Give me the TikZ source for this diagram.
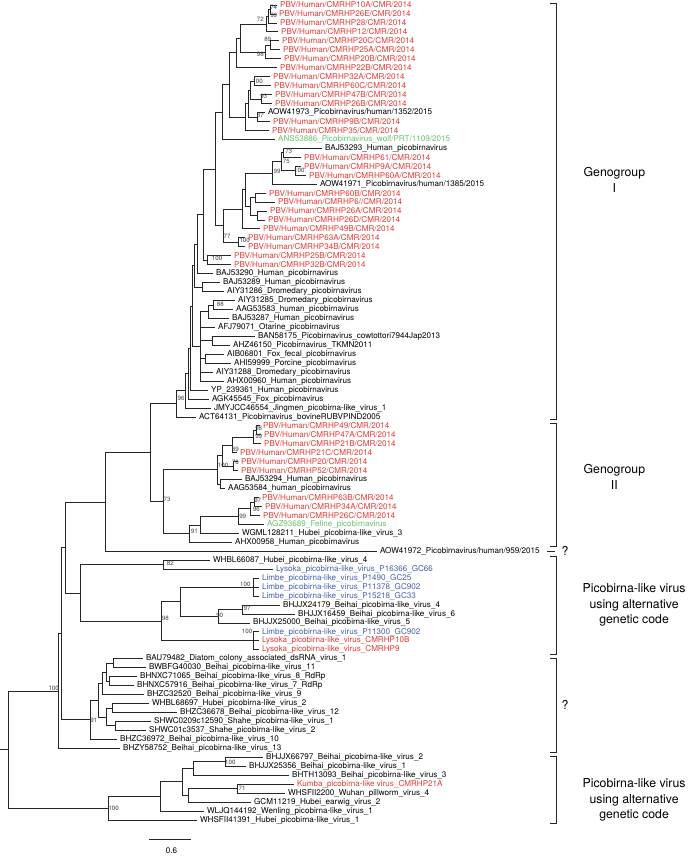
\documentclass[tikz,border=0pt]{standalone}
\usepackage{fontspec}
\setmainfont{TeX Gyre Heros}
\usetikzlibrary{positioning}
\definecolor{pbvred}{RGB}{226,58,52}
\definecolor{lbblue}{RGB}{72,96,172}
\definecolor{wgreen}{RGB}{108,192,108}

\begin{document}
\begin{tikzpicture}[x=1pt, y=-8.955pt,
  br/.style={line width=0.8pt, draw=black!85},
  lf/.style={anchor=west, inner xsep=2.5pt, inner ysep=0pt, font=\fontsize{8.1}{8.5}\selectfont},
  lr/.style={lf, text=pbvred},
  lb/.style={lf, text=lbblue},
  lg/.style={lf, text=wgreen},
  bs/.style={inner sep=0pt, font=\fontsize{6.2}{6.5}\selectfont, text=black!75},
  grp/.style={anchor=west, inner sep=0pt, align=center, font=\fontsize{12.3}{15.5}\selectfont},
  brk/.style={line width=0.6pt, draw=black!85}
]
% pixel frame
\begin{scope}[y=-1pt, yshift=-3.955pt]
\useasboundingbox (0,0) rectangle (697,856);
\end{scope}

% leaves
\node[lr] (l1) at (277,1) {PBV/Human/CMRHP10A/CMR/2014};
\node[lr] (l2) at (276,2) {PBV/Human/CMRHP26E/CMR/2014};
\node[lr] (l3) at (277,3) {PBV/Human/CMRHP28/CMR/2014};
\node[lr] (l4) at (278,4) {PBV/Human/CMRHP12/CMR/2014};
\node[lr] (l5) at (279,5) {PBV/Human/CMRHP20C/CMR/2014};
\node[lr] (l6) at (280,6) {PBV/Human/CMRHP25A/CMR/2014};
\node[lr] (l7) at (281,7) {PBV/Human/CMRHP20B/CMR/2014};
\node[lr] (l8) at (277,8) {PBV/Human/CMRHP22B/CMR/2014};
\node[lr] (l9) at (270,9) {PBV/Human/CMRHP32A/CMR/2014};
\node[lr] (l10) at (271,10) {PBV/Human/CMRHP60C/CMR/2014};
\node[lr] (l11) at (272,11) {PBV/Human/CMRHP47B/CMR/2014};
\node[lr] (l12) at (272,12) {PBV/Human/CMRHP26B/CMR/2014};
\node[lf] (l13) at (265,13) {AOW41973\_Picobirnavirus/human/1352/2015};
\node[lr] (l14) at (270,14) {PBV/Human/CMRHP9B/CMR/2014};
\node[lr] (l15) at (269,15) {PBV/Human/CMRHP35/CMR/2014};
\node[lg] (l16) at (275,16) {ANS53886\_Picobirnavirus\_wolf/PRT/1109/2015};
\node[lf] (l17) at (322,17) {BAJ53293\_Human\_picobirnavirus};
\node[lr] (l18) at (301,18) {PBV/Human/CMRHP61/CMR/2014};
\node[lr] (l19) at (301,19) {PBV/Human/CMRHP9A/CMR/2014};
\node[lr] (l20) at (306,20) {PBV/Human/CMRHP60A/CMR/2014};
\node[lf] (l21) at (317,21) {AOW41971\_Picobirnavirus/human/1385/2015};
\node[lr] (l22) at (266,22) {PBV/Human/CMRHP60B/CMR/2014};
\node[lr] (l23) at (275,23) {PBV/Human/CMRHP6//CMR/2014};
\node[lr] (l24) at (267,24) {PBV/Human/CMRHP26A/CMR/2014};
\node[lr] (l25) at (265,25) {PBV/Human/CMRHP26D/CMR/2014};
\node[lr] (l26) at (260,26) {PBV/Human/CMRHP49B/CMR/2014};
\node[lr] (l27) at (245,27) {PBV/Human/CMRHP63A/CMR/2014};
\node[lr] (l28) at (245,28) {PBV/Human/CMRHP34B/CMR/2014};
\node[lr] (l29) at (231,29) {PBV/Human/CMRHP25B/CMR/2014};
\node[lr] (l30) at (231,30) {PBV/Human/CMRHP32B/CMR/2014};
\node[lf] (l31) at (213,31) {BAJ53290\_Human\_picobirnavirus};
\node[lf] (l32) at (220,32) {BAJ53289\_Human\_picobirnavirus};
\node[lf] (l33) at (224,33) {AIY31286\_Dromedary\_picobirnavirus};
\node[lf] (l34) at (235,34) {AIY31285\_Dromedary\_picobirnavirus};
\node[lf] (l35) at (233,35) {AAG53583\_human\_picobirnavirus};
\node[lf] (l36) at (229,36) {BAJ53287\_Human\_picobirnavirus};
\node[lf] (l37) at (215,37) {AFJ79071\_Otarine\_picobirnavirus};
\node[lf] (l38) at (255,38) {BAN58175\_Picobirnavirus\_cowtottori7944Jap2013};
\node[lf] (l39) at (230,39) {AHZ46150\_Picobirnavirus\_TKMN2011};
\node[lf] (l40) at (224,40) {AIB06801\_Fox\_fecal\_picobirnavirus};
\node[lf] (l41) at (231,41) {AHI59999\_Porcine\_picobirnavirus};
\node[lf] (l42) at (213,42) {AIY31288\_Dromedary\_picobirnavirus};
\node[lf] (l43) at (224,43) {AHX00960\_Human\_picobirnavirus};
\node[lf] (l44) at (208,44) {YP\_239361\_Human\_picobirnavirus};
\node[lf] (l45) at (209,45) {AGK45545\_Fox\_picobirnavirus};
\node[lf] (l46) at (211,46) {JMYJCC46554\_Jingmen\_picobirna-like\_virus\_1};
\node[lf] (l47) at (196,47) {ACT64131\_Picobirnavirus\_bovineRUBVPIND2005};
\node[lr] (l48) at (260,48) {PBV/Human/CMRHP49/CMR/2014};
\node[lr] (l49) at (261,49) {PBV/Human/CMRHP47A/CMR/2014};
\node[lr] (l50) at (261,50) {PBV/Human/CMRHP21B/CMR/2014};
\node[lr] (l51) at (237,51) {PBV/Human/CMRHP21C/CMR/2014};
\node[lr] (l52) at (238,52) {PBV/Human/CMRHP20/CMR/2014};
\node[lr] (l53) at (238,53) {PBV/Human/CMRHP52/CMR/2014};
\node[lf] (l54) at (242,54) {BAJ53294\_Human\_picobirnavirus};
\node[lf] (l55) at (225,55) {AAG53584\_human\_picobirnavirus};
\node[lr] (l56) at (259,56) {PBV/Human/CMRHP63B/CMR/2014};
\node[lr] (l57) at (262,57) {PBV/Human/CMRHP34A/CMR/2014};
\node[lr] (l58) at (260,58) {PBV/Human/CMRHP26C/CMR/2014};
\node[lg] (l59) at (264,59) {AGZ93689\_Feline\_picobirnavirus};
\node[lf] (l60) at (239,60) {WGML128211\_Hubei\_picobirna-like\_virus\_3};
\node[lf] (l61) at (232,61) {AHX00958\_Human\_picobirnavirus};
\node[lf] (l62) at (377,62) {AOW41972\_Picobirnavirus/human/959/2015};
\node[lf] (l63) at (210,63) {WHBL66087\_Hubei\_picobirna-like\_virus\_4};
\node[lb] (l64) at (273,64) {Lysoka\_picobirna-like\_virus\_P16366\_GC66};
\node[lb] (l65) at (259,65) {Limbe\_picobirna-like\_virus\_P1490\_GC25};
\node[lb] (l66) at (259,66) {Limbe\_picobirna-like\_virus\_P11378\_GC902};
\node[lb] (l67) at (259,67) {Limbe\_picobirna-like\_virus\_P15218\_GC33};
\node[lf] (l68) at (280,68) {BHJJX24179\_Beihai\_picobirna-like\_virus\_4};
\node[lf] (l69) at (295,69) {BHJJX16459\_Beihai\_picobirna-like\_virus\_6};
\node[lf] (l70) at (250,70) {BHJJX25000\_Beihai\_picobirna-like\_virus\_5};
\node[lb] (l71) at (259,71) {Limbe\_picobirna-like\_virus\_P11300\_GC902};
\node[lr] (l72) at (259,72) {Lysoka\_picobirna-like\_virus\_CMRHP10B};
\node[lr] (l73) at (259,73) {Lysoka\_picobirna-like\_virus\_CMRHP9};
\node[lf] (l74) at (143,74) {BAU79482\_Diatom\_colony\_associated\_dsRNA\_virus\_1};
\node[lf] (l75) at (146,75) {BWBFG40030\_Beihai\_picobirna-like\_virus\_11};
\node[lf] (l76) at (137,76) {BHNXC71065\_Beihai\_picobirna-like\_virus\_8\_RdRp};
\node[lf] (l77) at (134,77) {BHNXC57916\_Beihai\_picobirna-like\_virus\_7\_RdRp};
\node[lf] (l78) at (144,78) {BHZC32520\_Beihai\_picobirna-like\_virus\_9};
\node[lf] (l79) at (149,79) {WHBL68697\_Hubei\_picobirna-like\_virus\_2};
\node[lf] (l80) at (177,80) {BHZC36678\_Beihai\_picobirna-like\_virus\_12};
\node[lf] (l81) at (151,81) {SHWC0209c12590\_Shahe\_picobirna-like\_virus\_1};
\node[lf] (l82) at (146,82) {SHWC01c3537\_Shahe\_picobirna-like\_virus\_2};
\node[lf] (l83) at (117,83) {BHZC36972\_Beihai\_picobirna-like\_virus\_10};
\node[lf] (l84) at (120,84) {BHZY58752\_Beihai\_picobirna-like\_virus\_13};
\node[lf] (l85) at (263,85) {BHJJX66797\_Beihai\_picobirna-like\_virus\_2};
\node[lf] (l86) at (246,86) {BHJJX25356\_Beihai\_picobirna-like\_virus\_1};
\node[lf] (l87) at (289,87) {BHTH13093\_Beihai\_picobirna-like\_virus\_3};
\node[lr] (l88) at (294,88) {Kumba\_picobirna-like virus\_CMRHP21A};
\node[lf] (l89) at (285,89) {WHSFII2200\_Wuhan\_pillworm\_virus\_4};
\node[lf] (l90) at (251,90) {GCM11219\_Hubei\_earwig\_virus\_2};
\node[lf] (l91) at (204,91) {WLJQ144192\_Wenling\_picobirna-like\_virus\_1};
\node[lf] (l92) at (197,92) {WHSFII41391\_Hubei\_picobirna-like\_virus\_1};

% internal nodes: genogroup I
\coordinate (n74) at (270,1.5);
\coordinate (n99a) at (268,2.25);
\coordinate (n72) at (266,3.125);
\coordinate (n89) at (270,5.5);
\coordinate (n98a) at (265,6.25);
\coordinate (n1g7) at (240,4.6875);
\coordinate (n1g8) at (236,6.344);
\coordinate (n100a) at (254,9.5);
\coordinate (n93) at (261,11.5);
\coordinate (n9g12) at (250,10.5);
\coordinate (n87) at (257,13.5);
\coordinate (n9g14) at (248,12);
\coordinate (n9g15) at (245,13.5);
\coordinate (n1g15) at (229,9.922);
\coordinate (n1g16) at (222,12.961);
\coordinate (n73a) at (283,17.5);
\coordinate (n100c) at (295,19.5);
\coordinate (n75) at (281,18.5);
\coordinate (n99b) at (272,19.75);
\coordinate (n22) at (255,22.5);
\coordinate (n24) at (257,24.5);
\coordinate (n22g25) at (250,23.5);
\coordinate (n17g25) at (245,21.625);
\coordinate (n17g26) at (242,23.8125);
\coordinate (n100d) at (238,27.5);
\coordinate (n77) at (223,25.656);
\coordinate (n1g28) at (215,19.309);
\coordinate (n100e) at (207,29.5);
\coordinate (n1g30) at (203,24.404);
\coordinate (n1g31) at (197,27.702);
\coordinate (n32) at (202,32.5);
\coordinate (n1g33) at (194,30.101);
\coordinate (n88) at (213,34.5);
\coordinate (n34g36) at (208,35.25);
\coordinate (n38) at (212,38.5);
\coordinate (n40) at (205,40.5);
\coordinate (n34g43) at (200,39.125);
\coordinate (n1g43) at (192,34.613);
\coordinate (n1g44) at (190,39.307);
\coordinate (n1g45) at (188,42.153);
\coordinate (n1g46) at (185,44.077);
\coordinate (n96) at (176,45.538);
% genogroup II
\coordinate (n98b) at (256,48.5);
\coordinate (n99c) at (253,49.25);
\coordinate (n89b) at (232,50.125);
\coordinate (n70) at (233,52.5);
\coordinate (n48g53) at (222,51.3125);
\coordinate (n54) at (220,54.5);
\coordinate (n100f) at (217,52.906);
\coordinate (n97) at (254,56.5);
\coordinate (n96b) at (250,57.25);
\coordinate (n99e) at (238,58.125);
\coordinate (n59g60) at (200,59.0625);
\coordinate (n91) at (189,60.031);
\coordinate (n73b) at (163,56.469);
\coordinate (nGG) at (150,51.003);
\coordinate (nGG2) at (105,56.502);
% alternative code clade
\coordinate (n82) at (163,63.5);
\coordinate (n100g) at (253,66);
\coordinate (n97b) at (242,68.5);
\coordinate (n90) at (218,69.25);
\coordinate (n65g70) at (180,67.625);
\coordinate (n100h) at (253,72);
\coordinate (n98c) at (161,69.8125);
\coordinate (n80) at (80,66.656);
\coordinate (nT) at (65,61.579);
% unknown clade
\coordinate (m113) at (113,74.5);
\coordinate (m107) at (109,76.5);
\coordinate (m106) at (106,75.5);
\coordinate (m102) at (102,76.75);
\coordinate (m112) at (112,79.5);
\coordinate (m115) at (115,81.5);
\coordinate (m106b) at (106,80.5);
\coordinate (mA) at (98,78.625);
\coordinate (m90) at (90,80.8125);
\coordinate (nX) at (61,71.196);
\coordinate (nA) at (58,77.598);
% bottom clade
\coordinate (k225) at (225,85.5);
\coordinate (k193) at (193,86.25);
\coordinate (k237) at (237,88.5);
\coordinate (k188) at (188,89.25);
\coordinate (k182) at (182,87.75);
\coordinate (k160) at (160,89.375);
\coordinate (nB) at (108,90.6875);
\coordinate (nR) at (8,84.143);
\coordinate (rt) at (0,84.143);

% branches
\draw[br] (n74) |- (l1) (n74) |- (l2);
\draw[br] (n99a) |- (n74) (n99a) |- (l3);
\draw[br] (n72) |- (n99a) (n72) |- (l4);
\draw[br] (n89) |- (l5) (n89) |- (l6);
\draw[br] (n98a) |- (n89) (n98a) |- (l7);
\draw[br] (n1g7) |- (n72) (n1g7) |- (n98a);
\draw[br] (n1g8) |- (n1g7) (n1g8) |- (l8);
\draw[br] (n100a) |- (l9) (n100a) |- (l10);
\draw[br] (n93) |- (l11) (n93) |- (l12);
\draw[br] (n9g12) |- (n100a) (n9g12) |- (n93);
\draw[br] (n87) |- (l13) (n87) |- (l14);
\draw[br] (n9g14) |- (n9g12) (n9g14) |- (n87);
\draw[br] (n9g15) |- (n9g14) (n9g15) |- (l15);
\draw[br] (n1g15) |- (n1g8) (n1g15) |- (n9g15);
\draw[br] (n1g16) |- (n1g15) (n1g16) |- (l16);
\draw[br] (n73a) |- (l17) (n73a) |- (l18);
\draw[br] (n100c) |- (l19) (n100c) |- (l20);
\draw[br] (n75) |- (n73a) (n75) |- (n100c);
\draw[br] (n99b) |- (n75) (n99b) |- (l21);
\draw[br] (n22) |- (l22) (n22) |- (l23);
\draw[br] (n24) |- (l24) (n24) |- (l25);
\draw[br] (n22g25) |- (n22) (n22g25) |- (n24);
\draw[br] (n17g25) |- (n99b) (n17g25) |- (n22g25);
\draw[br] (n17g26) |- (n17g25) (n17g26) |- (l26);
\draw[br] (n100d) |- (l27) (n100d) |- (l28);
\draw[br] (n77) |- (n17g26) (n77) |- (n100d);
\draw[br] (n1g28) |- (n1g16) (n1g28) |- (n77);
\draw[br] (n100e) |- (l29) (n100e) |- (l30);
\draw[br] (n1g30) |- (n1g28) (n1g30) |- (n100e);
\draw[br] (n1g31) |- (n1g30) (n1g31) |- (l31);
\draw[br] (n32) |- (l32) (n32) |- (l33);
\draw[br] (n1g33) |- (n1g31) (n1g33) |- (n32);
\draw[br] (n88) |- (l34) (n88) |- (l35);
\draw[br] (n34g36) |- (n88) (n34g36) |- (l36);
\draw[br] (n38) |- (l38) (n38) |- (l39);
\draw[br] (n40) |- (l40) (n40) |- (l41);
\draw[br] (n34g43) |- (n34g36) (n34g43) |- (l37) (n34g43) |- (n38) (n34g43) |- (n40) (n34g43) |- (l42) (n34g43) |- (l43);
\draw[br] (n1g43) |- (n1g33) (n1g43) |- (n34g43);
\draw[br] (n1g44) |- (n1g43) (n1g44) |- (l44);
\draw[br] (n1g45) |- (n1g44) (n1g45) |- (l45);
\draw[br] (n1g46) |- (n1g45) (n1g46) |- (l46);
\draw[br] (n96) |- (n1g46) (n96) |- (l47);
\draw[br] (n98b) |- (l48) (n98b) |- (l49);
\draw[br] (n99c) |- (n98b) (n99c) |- (l50);
\draw[br] (n89b) |- (n99c) (n89b) |- (l51);
\draw[br] (n70) |- (l52) (n70) |- (l53);
\draw[br] (n48g53) |- (n89b) (n48g53) |- (n70);
\draw[br] (n54) |- (l54) (n54) |- (l55);
\draw[br] (n100f) |- (n48g53) (n100f) |- (n54);
\draw[br] (n97) |- (l56) (n97) |- (l57);
\draw[br] (n96b) |- (n97) (n96b) |- (l58);
\draw[br] (n99e) |- (n96b) (n99e) |- (l59);
\draw[br] (n59g60) |- (n99e) (n59g60) |- (l60);
\draw[br] (n91) |- (n59g60) (n91) |- (l61);
\draw[br] (n73b) |- (n100f) (n73b) |- (n91);
\draw[br] (nGG) |- (n96) (nGG) |- (n73b);
\draw[br] (nGG2) |- (nGG) (nGG2) |- (l62);
\draw[br] (n82) |- (l63) (n82) |- (l64);
\draw[br] (n100g) |- (l65) (n100g) |- (l66) (n100g) |- (l67);
\draw[br] (n97b) |- (l68) (n97b) |- (l69);
\draw[br] (n90) |- (n97b) (n90) |- (l70);
\draw[br] (n65g70) |- (n100g) (n65g70) |- (n90);
\draw[br] (n100h) |- (l71) (n100h) |- (l72) (n100h) |- (l73);
\draw[br] (n98c) |- (n65g70) (n98c) |- (n100h);
\draw[br] (n80) |- (n82) (n80) |- (n98c);
\draw[br] (nT) |- (nGG2) (nT) |- (n80);
\draw[br] (m113) |- (l74) (m113) |- (l75);
\draw[br] (m107) |- (l76) (m107) |- (l77);
\draw[br] (m106) |- (m113) (m106) |- (m107);
\draw[br] (m102) |- (m106) (m102) |- (l78);
\draw[br] (m112) |- (l79) (m112) |- (l80);
\draw[br] (m115) |- (l81) (m115) |- (l82);
\draw[br] (m106b) |- (m112) (m106b) |- (m115);
\draw[br] (mA) |- (m102) (mA) |- (m106b);
\draw[br] (m90) |- (mA) (m90) |- (l83);
\draw[br] (nX) |- (nT) (nX) |- (m90);
\draw[br] (nA) |- (nX) (nA) |- (l84);
\draw[br] (k225) |- (l85) (k225) |- (l86);
\draw[br] (k193) |- (k225) (k193) |- (l87);
\draw[br] (k237) |- (l88) (k237) |- (l89);
\draw[br] (k188) |- (k237) (k188) |- (l90);
\draw[br] (k182) |- (k193) (k182) |- (k188);
\draw[br] (k160) |- (k182) (k160) |- (l91);
\draw[br] (nB) |- (k160) (nB) |- (l92);
\draw[br] (nR) |- (nA) (nR) |- (nB);
\draw[br] (rt) -- (nR);

\begin{scope}[y=-1pt, yshift=-3.955pt]
% support values
\node[bs] (b1) at (273.3,7.3) {74};
\node[bs] (b2) at (273.3,15) {99};
\node[bs] (b3) at (260,19) {72};
\node[bs] (b4) at (267.3,39.3) {89};
\node[bs] (b5) at (260,54.3) {98};
\node[bs] (b6) at (257.3,81.7) {100};
\node[bs] (b7) at (263.3,96.7) {93};
\node[bs] (b8) at (260,115) {87};
\node[bs] (b9) at (288.3,151.7) {73};
\node[bs] (b10) at (286,161) {75};
\node[bs] (b11) at (276.7,171.7) {99};
\node[bs] (b12) at (299,170) {100};
\node[bs] (b13) at (226.7,236.7) {77};
\node[bs] (b14) at (244.3,240.7) {100};
\node[bs] (b15) at (216.7,258.3) {100};
\node[bs] (b16) at (220,304) {88};
\node[bs] (b17) at (180.7,398.3) {96};
\node[bs] (b18) at (258.3,428.3) {98};
\node[bs] (b19) at (258.3,436) {99};
\node[bs] (b20) at (235,449) {89};
\node[bs] (b21) at (235,462.3) {70};
\node[bs] (b22) at (222.7,465.7) {100};
\node[bs] (b23) at (166.7,499.3) {73};
\node[bs] (b24) at (257.3,500.7) {97};
\node[bs] (b25) at (256,509.3) {96};
\node[bs] (b26) at (242.3,516) {99};
\node[bs] (b27) at (194,531.7) {91};
\node[bs] (b28) at (170,563.3) {82};
\node[bs] (b29) at (245,584.3) {100};
\node[bs] (b30) at (246.7,608.3) {97};
\node[bs] (b31) at (219.3,615) {90};
\node[bs] (b32) at (165,618.3) {98};
\node[bs] (b33) at (246.7,631.7) {100};
\node[bs] (b34) at (53.3,688.3) {100};
\node[bs] (b35) at (93.3,720) {91};
\node[bs] (b36) at (230,762.3) {100};
\node[bs] (b37) at (241.7,788.3) {71};
\node[bs] (b38) at (113.3,808.3) {100};

% brackets and groups
\draw[brk] (550,3) -- (556,3) -- (556,419) -- (550,419);
\draw[brk] (550,423) -- (556,423) -- (556,546) -- (550,546);
\draw[brk] (547,551) -- (555,551);
\draw[brk] (550,556) -- (556,556) -- (556,654) -- (550,654);
\draw[brk] (550,658) -- (556,658) -- (556,752) -- (550,752);
\draw[brk] (550,756) -- (556,756) -- (556,823) -- (550,823);
\node[grp] (g1) at (583,180) {Genogroup\\I};
\node[grp] (g2) at (583,477) {Genogroup\\II};
\node[grp] (q1) at (561,551) {?};
\node[grp] (a1) at (582,605) {Picobirna-like virus\\using alternative\\genetic code};
\node[grp] (q2) at (561,705) {?};
\node[grp] (a2) at (582,800) {Picobirna-like virus\\using alternative\\genetic code};

% scale
\coordinate (s0) at (149,839);
\coordinate (s1) at (191,839);
\draw[br] (s0) -- (s1);
\node[lf, anchor=center] (sl) at (171,851) {0.6};
\end{scope}
\end{tikzpicture}
\end{document}
